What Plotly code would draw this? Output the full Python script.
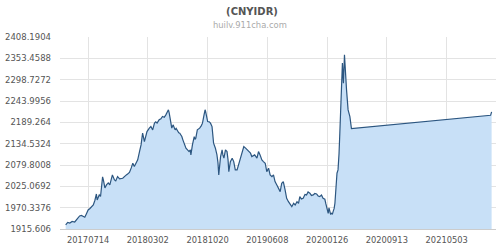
import plotly.graph_objects as go

dates = [
    "2017-04-18", "2017-04-26", "2017-05-04", "2017-05-13", "2017-05-23", "2017-05-31",
    "2017-06-05", "2017-06-11", "2017-06-18", "2017-06-23", "2017-07-01", "2017-07-07",
    "2017-07-14", "2017-07-21", "2017-07-27", "2017-08-03", "2017-08-09", "2017-08-15",
    "2017-08-18", "2017-08-23", "2017-08-26", "2017-08-31", "2017-09-03", "2017-09-08",
    "2017-09-11", "2017-09-17", "2017-09-23", "2017-09-30", "2017-10-06", "2017-10-11",
    "2017-10-16", "2017-10-24", "2017-10-29", "2017-11-05", "2017-11-13", "2017-11-25",
    "2017-12-03", "2017-12-09", "2017-12-14", "2017-12-21", "2017-12-28", "2018-01-03",
    "2018-01-09", "2018-01-16", "2018-01-22", "2018-01-29", "2018-02-04", "2018-02-08",
    "2018-02-10", "2018-02-17", "2018-02-22", "2018-02-27", "2018-03-08", "2018-03-14",
    "2018-03-21", "2018-03-28", "2018-04-02", "2018-04-07", "2018-04-15", "2018-04-22",
    "2018-04-28", "2018-05-05", "2018-05-11", "2018-05-17", "2018-05-21", "2018-05-24",
    "2018-05-26", "2018-05-30", "2018-06-03", "2018-06-08", "2018-06-12", "2018-06-16",
    "2018-06-20", "2018-06-25", "2018-06-30", "2018-07-04", "2018-07-08", "2018-07-12",
    "2018-07-16", "2018-07-21", "2018-07-24", "2018-07-28", "2018-08-03", "2018-08-09",
    "2018-08-14", "2018-08-16", "2018-08-22", "2018-08-29", "2018-09-01", "2018-09-04",
    "2018-09-10", "2018-09-19", "2018-09-25", "2018-09-30", "2018-10-06", "2018-10-10",
    "2018-10-12", "2018-10-15", "2018-10-20", "2018-10-26", "2018-10-31", "2018-11-06",
    "2018-11-09", "2018-11-12", "2018-11-19", "2018-11-25", "2018-11-29", "2018-12-02",
    "2018-12-09", "2018-12-15", "2018-12-18", "2018-12-22", "2018-12-28", "2019-01-03",
    "2019-01-07", "2019-01-10", "2019-01-16", "2019-01-23", "2019-01-29", "2019-02-04",
    "2019-02-11", "2019-02-17", "2019-02-24", "2019-03-03", "2019-03-09", "2019-03-16",
    "2019-03-22", "2019-03-29", "2019-04-04", "2019-04-09", "2019-04-20", "2019-04-29",
    "2019-05-05", "2019-05-11", "2019-05-18", "2019-05-24", "2019-05-31", "2019-06-06",
    "2019-06-13", "2019-06-19", "2019-06-26", "2019-07-02", "2019-07-08", "2019-07-15",
    "2019-07-21", "2019-07-28", "2019-08-03", "2019-08-09", "2019-08-16", "2019-08-22",
    "2019-08-29", "2019-09-05", "2019-09-11", "2019-09-18", "2019-09-24", "2019-10-01",
    "2019-10-07", "2019-10-12", "2019-10-18", "2019-10-25", "2019-11-01", "2019-11-07",
    "2019-11-13", "2019-11-20", "2019-11-26", "2019-12-03", "2019-12-09", "2019-12-16",
    "2019-12-22", "2019-12-28", "2020-01-04", "2020-01-10", "2020-01-17", "2020-01-21",
    "2020-01-23", "2020-01-26", "2020-01-30", "2020-02-02", "2020-02-05", "2020-02-08",
    "2020-02-12", "2020-02-15", "2020-02-18", "2020-02-22", "2020-02-25", "2020-02-27",
    "2020-02-29", "2020-03-02", "2020-03-04", "2020-03-08", "2020-03-10", "2020-03-12",
    "2020-03-15", "2020-03-19", "2020-03-23", "2020-03-25", "2020-03-28", "2020-03-29",
    "2020-04-02", "2020-04-06", "2020-04-10", "2020-04-16", "2020-04-23", "2020-04-29",
    "2021-10-20", "2021-10-24",
]

rates = [
    1925.9, 1932.3, 1931.0, 1934.9, 1933.6, 1941.3,
    1945.7, 1949.0, 1950.3, 1947.7, 1945.7, 1954.1,
    1964.4, 1968.3, 1971.4, 1977.3, 1988.8, 2005.5,
    1990.1, 1997.8, 2003.0, 1999.1, 2026.1, 2049.3,
    2041.5, 2020.9, 2028.7, 2033.8, 2028.7, 2046.7,
    2054.4, 2041.5, 2039.0, 2050.0, 2044.1, 2045.9,
    2051.8, 2054.4, 2056.9, 2060.8, 2072.4, 2084.4,
    2075.7, 2085.2, 2092.9, 2114.2, 2131.4, 2152.0,
    2161.5, 2139.9, 2154.5, 2165.6, 2174.3, 2178.4,
    2169.9, 2187.2, 2190.5, 2187.2, 2195.7, 2198.2,
    2204.2, 2202.1, 2208.5, 2216.2, 2221.4, 2213.7,
    2204.2, 2185.4, 2174.4, 2182.8, 2173.8, 2169.9,
    2173.8, 2165.6, 2162.3, 2161.5, 2157.1, 2152.8,
    2144.3, 2135.8, 2126.3, 2122.9, 2118.6, 2114.2,
    2118.6, 2105.7, 2131.4, 2152.8, 2145.6, 2148.6,
    2169.9, 2174.3, 2180.2, 2187.2, 2208.5, 2221.4,
    2217.5, 2204.2, 2191.3, 2190.5, 2187.2, 2178.4,
    2154.5, 2135.8, 2122.9, 2105.7, 2085.2, 2054.4,
    2101.4, 2118.6, 2105.7, 2097.3, 2118.6, 2114.2,
    2092.9, 2062.9, 2088.5, 2097.3, 2088.5, 2067.2,
    2067.2, 2080.0, 2097.3, 2110.1, 2127.1, 2123.0,
    2118.6, 2114.2, 2110.1, 2101.4, 2105.7, 2097.3,
    2114.2, 2105.7, 2092.9, 2088.5, 2084.4, 2062.9,
    2071.5, 2054.4, 2050.0, 2054.4, 2037.1, 2028.7,
    2020.2, 2011.5, 2033.0, 2037.1, 2015.8, 1994.5,
    1985.7, 1977.3, 1972.9, 1981.6, 1977.3, 1985.7,
    1981.6, 1998.6, 1992.7, 1994.5, 2004.3, 2003.0,
    2010.7, 2007.3, 2001.7, 2003.0, 2006.8, 2005.5,
    2000.4, 1998.6, 2003.0, 1994.5, 1991.9, 1979.8,
    1972.9, 1961.9, 1955.9, 1969.6, 1964.4, 1954.1,
    1955.9, 1952.9, 1960.1, 1968.3, 1981.6, 2008.1,
    2033.0, 2041.5, 2058.7, 2067.2, 2085.2, 2110.1,
    2161.5, 2229.8, 2298.3, 2341.2, 2298.3, 2289.8,
    2362.7, 2298.3, 2272.6, 2221.2, 2204.0, 2173.3,
    2207.3, 2216.2,
]

y_ticks = [1915.606, 1970.3376, 2025.0692, 2079.8008, 2134.5324,
           2189.264, 2243.9956, 2298.7272, 2353.4588, 2408.1904]
y_labels = ["1915.606", "1970.3376", "2025.0692", "2079.8008", "2134.5324",
            "2189.264", "2243.9956", "2298.7272", "2353.4588", "2408.1904"]

x_ticks = ["2017-07-14", "2018-03-02", "2018-10-20", "2019-06-08",
           "2020-01-26", "2020-09-13", "2021-05-03"]
x_labels = ["20170714", "20180302", "20181020", "20190608",
            "20200126", "20200913", "20210503"]

fig = go.Figure()
fig.add_trace(go.Scatter(
    x=dates, y=rates, mode="lines",
    line=dict(color="#2c5680", width=1.2),
    fill="tozeroy", fillcolor="rgba(200,224,247,1)",
    hoverinfo="x+y",
))

fig.update_layout(
    width=500, height=250,
    margin=dict(l=60, r=4, t=37, b=21),
    paper_bgcolor="white", plot_bgcolor="white",
    showlegend=False,
    font=dict(family="DejaVu Sans", color="#555555"),
    title=dict(text="<b>(CNYIDR)</b>", xref="container", yref="container",
               x=0.504, y=0.956, xanchor="center", yanchor="middle",
               font=dict(size=10, color="#555555", family="DejaVu Sans")),
    annotations=[dict(text="huilv.911cha.com", xref="paper", yref="paper",
                      x=(250 - 60) / 436, y=1 + 12 / 192, xanchor="center", yanchor="middle",
                      showarrow=False, font=dict(size=8.4, color="#aaaaaa", family="DejaVu Sans"))],
    xaxis=dict(
        type="date", range=["2017-03-27", "2021-11-10"],
        tickvals=x_ticks, ticktext=x_labels,
        showgrid=True, gridcolor="#e3e3e3", gridwidth=1,
        showline=True, linecolor="#cccccc", linewidth=1,
        ticks="", tickfont=dict(size=8.3, color="#555555"),
        ticklabelstandoff=3,
        zeroline=False,
    ),
    yaxis=dict(
        range=[1915.606, 2408.1904],
        tickvals=y_ticks, ticktext=y_labels,
        showgrid=True, gridcolor="#e3e3e3", gridwidth=1,
        ticks="", tickfont=dict(size=8.5, color="#555555"),
        ticklabelstandoff=8,
        zeroline=False, showline=False,
    ),
)

fig.write_html("out.html")
